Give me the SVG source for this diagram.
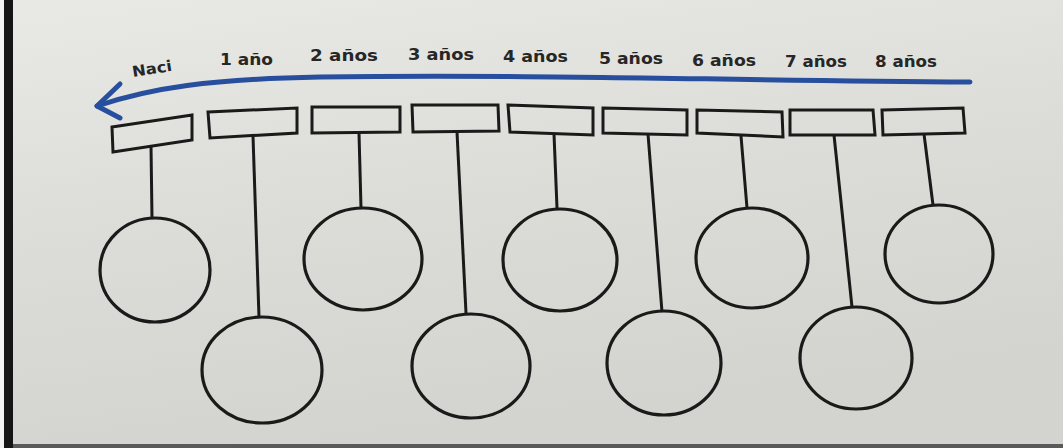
<svg xmlns="http://www.w3.org/2000/svg" width="1063" height="448" viewBox="0 0 1063 448">
<defs>
<linearGradient id="paper" x1="0" y1="0" x2="0.3" y2="1">
<stop offset="0" stop-color="#e9e9e6"/>
<stop offset="0.5" stop-color="#dcddd9"/>
<stop offset="1" stop-color="#d3d4cf"/>
</linearGradient>
<style>
.box{fill:none;stroke:#1a1a1a;stroke-width:3;stroke-linejoin:miter}
.stem{fill:none;stroke:#1a1a1a;stroke-width:3}
.circ{fill:none;stroke:#1a1a1a;stroke-width:3.2}
.lbl{font-family:"DejaVu Sans","Liberation Sans",sans-serif;font-weight:bold;font-size:15px;fill:#262626}
.arrow{fill:none;stroke:#274f9e;stroke-width:5;stroke-linecap:round;stroke-linejoin:round}
</style>
</defs>
<rect x="0" y="0" width="1063" height="448" fill="url(#paper)"/>
<rect x="4" y="0" width="9" height="448" fill="#151515"/>
<rect x="0" y="0" width="4" height="448" fill="#f2f2f2"/>
<rect x="13" y="444" width="1050" height="4" fill="#5a5a5a"/>

<g id="connectors">
<path class="arrow" d="M970,82 C700,80 520,74 320,77 C210,79 150,88 97,106"/>
<polyline class="arrow" points="120,84 97,106 120,118"/>
<line class="stem" x1="151" y1="146" x2="152" y2="218"/>
<line class="stem" x1="253" y1="136" x2="259" y2="317"/>
<line class="stem" x1="359" y1="133" x2="361" y2="208"/>
<line class="stem" x1="457" y1="132" x2="466" y2="313"/>
<line class="stem" x1="554" y1="134" x2="557" y2="208"/>
<line class="stem" x1="648" y1="134" x2="662" y2="312"/>
<line class="stem" x1="741" y1="136" x2="747" y2="208"/>
<line class="stem" x1="834" y1="135" x2="852" y2="307"/>
<line class="stem" x1="924" y1="134" x2="933" y2="205"/>
</g>

<g id="node-naci">
<text class="lbl" transform="translate(133,77) rotate(-9)" textLength="40" lengthAdjust="spacingAndGlyphs">Naci</text>
<polygon class="box" points="112,127 192,115 192,140 113,152"/>
<ellipse class="circ" cx="155" cy="270" rx="55" ry="52"/>
</g>
<g id="node-1">
<text class="lbl" x="220" y="65" textLength="53" lengthAdjust="spacingAndGlyphs">1 año</text>
<polygon class="box" points="208,112 297,108 297,133 210,138"/>
<ellipse class="circ" cx="262" cy="370" rx="60" ry="53"/>
</g>
<g id="node-2">
<text class="lbl" x="310" y="61" textLength="68" lengthAdjust="spacingAndGlyphs">2 años</text>
<polygon class="box" points="312,107 400,107 400,132 312,133"/>
<ellipse class="circ" cx="363" cy="259" rx="59" ry="51"/>
</g>
<g id="node-3">
<text class="lbl" x="408" y="60" textLength="66" lengthAdjust="spacingAndGlyphs">3 años</text>
<polygon class="box" points="412,105 498,105 499,131 413,132"/>
<ellipse class="circ" cx="471" cy="366" rx="59" ry="52"/>
</g>
<g id="node-4">
<text class="lbl" x="503" y="62" textLength="65" lengthAdjust="spacingAndGlyphs">4 años</text>
<polygon class="box" points="508,105 593,108 593,135 510,132"/>
<ellipse class="circ" cx="560" cy="260" rx="57" ry="51"/>
</g>
<g id="node-5">
<text class="lbl" x="599" y="64" textLength="64" lengthAdjust="spacingAndGlyphs">5 años</text>
<polygon class="box" points="603,108 687,110 687,135 603,133"/>
<ellipse class="circ" cx="664" cy="363" rx="57" ry="52"/>
</g>
<g id="node-6">
<text class="lbl" x="692" y="66" textLength="64" lengthAdjust="spacingAndGlyphs">6 años</text>
<polygon class="box" points="697,110 782,112 783,137 697,133"/>
<ellipse class="circ" cx="752" cy="258" rx="56" ry="50"/>
</g>
<g id="node-7">
<text class="lbl" x="785" y="67" textLength="62" lengthAdjust="spacingAndGlyphs">7 años</text>
<polygon class="box" points="790,110 873,110 875,135 790,135"/>
<ellipse class="circ" cx="856" cy="358" rx="56" ry="51"/>
</g>
<g id="node-8">
<text class="lbl" x="875" y="67" textLength="62" lengthAdjust="spacingAndGlyphs">8 años</text>
<polygon class="box" points="882,110 963,108 965,133 883,135"/>
<ellipse class="circ" cx="939" cy="254" rx="54" ry="49"/>
</g>
</svg>
